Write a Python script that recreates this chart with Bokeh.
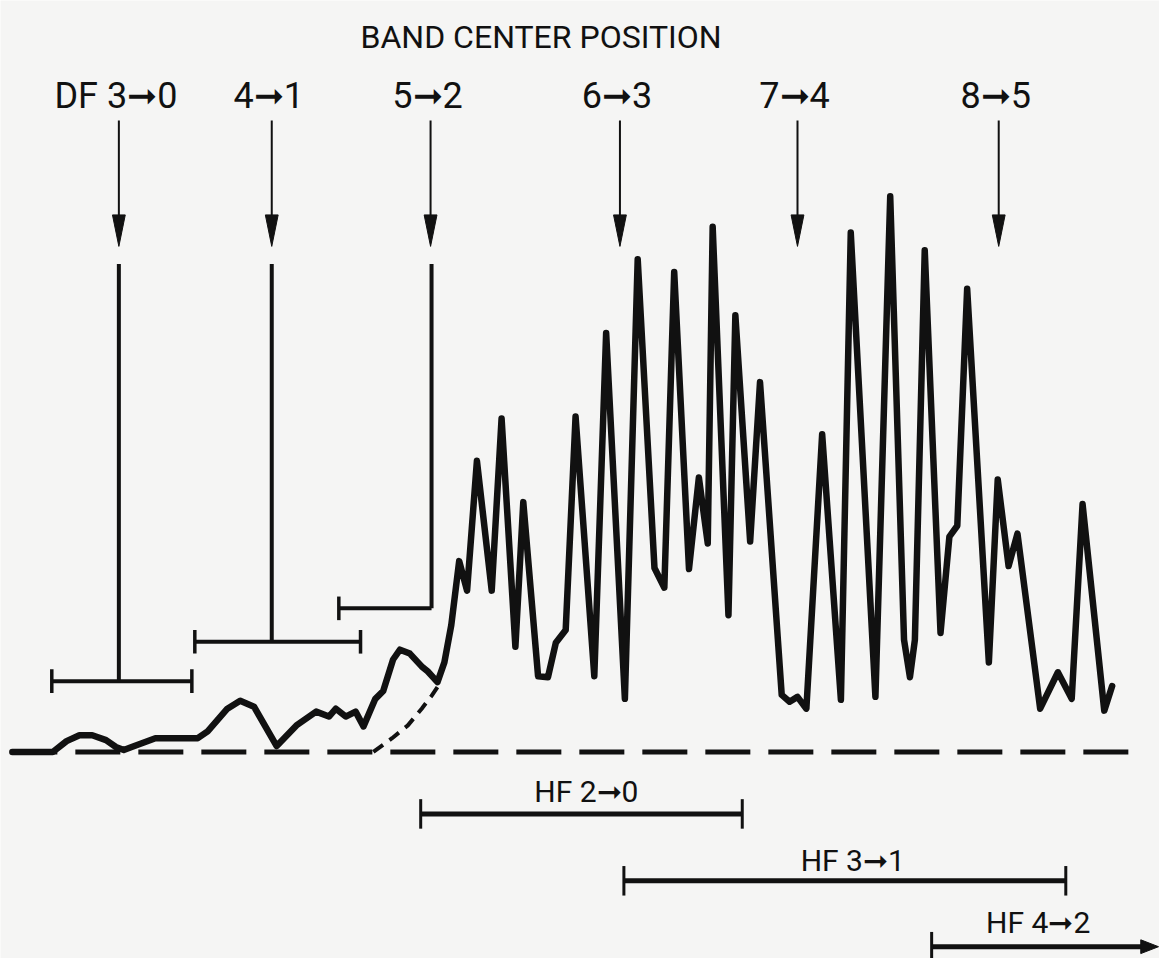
from bokeh.plotting import figure
from bokeh.models import Range1d
from bokeh.core.properties import value
from bokeh.embed import file_html
from bokeh.resources import INLINE

# ---------------- data ----------------
# spectrum: position (x) and intensity above baseline (y)
spec_x = [12, 53, 67, 80, 93, 107, 117, 125, 133, 157, 200, 210, 230, 243, 257, 280, 300, 320,
          333, 340, 350, 360, 368, 380, 388, 398, 405, 415, 427, 433, 443, 450, 457, 465, 473,
          483, 498, 508, 522, 530, 545, 555, 563, 573, 583, 602, 614, 633, 646, 663, 673, 683,
          698, 708, 717, 722, 738, 745, 760, 770, 792, 800, 808, 817, 833, 852, 862, 887, 902,
          916, 922, 927, 937, 953, 962, 970, 980, 1002, 1011, 1022, 1031, 1054, 1072, 1086,
          1097, 1119, 1127]
spec_y = [0, 0, 11, 17, 17, 12, 5, 2, 5, 14, 14, 21, 44, 52, 46, 6, 27, 41,
          36, 44, 36, 41, 26, 54, 62, 94, 104, 100, 87, 82, 71, 91, 129, 194, 164,
          296, 164, 339, 107, 254, 77, 76, 111, 124, 341, 77, 426, 54, 501, 187, 167, 488,
          186, 279, 212, 534, 139, 444, 214, 376, 58, 51, 56, 44, 323, 53, 528, 56, 565,
          114, 76, 114, 510, 121, 219, 230, 471, 91, 277, 189, 222, 44, 81, 54,
          252, 42, 67]

# extrapolated shoulder (dashed)
shoulder_x = [378, 397, 413, 427, 437, 447]
shoulder_y = [0, 14, 27, 44, 57, 72]

# band center positions
band_labels = ["DF 3\u279e0", "4\u279e1", "5\u279e2", "6\u279e3", "7\u279e4", "8\u279e5"]
band_centers = [120, 275, 436, 628, 808, 1012]

# DF band sticks and their spread
df_centers = [120, 275, 437]
df_lo = [52, 197, 343]
df_hi = [194, 365, 437]
df_level = [72, 112, 146]
df_top = 496

# HF band ranges
hf_labels = ["HF 2\u279e0", "HF 3\u279e1", "HF 4\u279e2"]
hf_lo = [426, 632, 944]
hf_hi = [752, 1080, 1158]
hf_level = [-63, -131, -198]
hf_label_x = [594, 864, 1052]

title_text = "BAND CENTER POSITION"

# ---------------- figure ----------------
BG = "#f5f5f4"
INK = "#111111"
FONT = "Roboto"

p = figure(width=1159, height=958, output_backend="svg", toolbar_location=None,
           x_range=Range1d(0, 1175), y_range=Range1d(-210, 764),
           x_axis_location=None, y_axis_location=None, min_border=0,
           background_fill_color=BG, border_fill_color=BG, outline_line_color=None,
           tools="")
p.grid.visible = False

# baseline
p.line([12, 1150], [0, 0], line_color=INK, line_width=5, line_dash="45 18")
# shoulder
p.line(shoulder_x, shoulder_y, line_color=INK, line_width=4, line_dash="12 8")
# spectrum
p.line(spec_x, spec_y, line_color=INK, line_width=6.5, line_join="round", line_cap="round")

# DF sticks
p.segment(x0=df_centers, y0=[df_top] * 3, x1=df_centers, y1=df_level, line_color=INK, line_width=4)
p.segment(x0=df_lo, y0=df_level, x1=df_hi, y1=df_level, line_color=INK, line_width=4)
cap_x = df_lo + df_hi[:2]
cap_y = df_level + df_level[:2]
p.segment(x0=cap_x, y0=[v - 12 for v in cap_y], x1=cap_x, y1=[v + 12 for v in cap_y],
          line_color=INK, line_width=3.5)

# band center arrows
shaft_top, shaft_bot, head_base, head_tip = 764 - 122, 764 - 222, 764 - 218, 764 - 250
p.segment(x0=band_centers, y0=[shaft_top] * 6, x1=band_centers, y1=[shaft_bot] * 6,
          line_color=INK, line_width=2)
p.patches([[c - 6.5, c + 6.5, c] for c in band_centers],
          [[head_base, head_base, head_tip] for _ in band_centers],
          fill_color=INK, line_color=INK, line_width=1)

# HF ranges
p.segment(x0=hf_lo, y0=hf_level, x1=hf_hi, y1=hf_level, line_color=INK, line_width=5)
hcap_x = hf_lo + hf_hi[:2]
hcap_y = hf_level + hf_level[:2]
p.segment(x0=hcap_x, y0=[v - 15 for v in hcap_y], x1=hcap_x, y1=[v + 15 for v in hcap_y],
          line_color=INK, line_width=3)
p.patches([[hf_hi[2] - 2, hf_hi[2] - 2, hf_hi[2] + 16]],
          [[hf_level[2] - 7, hf_level[2] + 7, hf_level[2]]],
          fill_color=INK, line_color=INK)

# texts (alphabetic baseline renders centred on cap height here)
p.text(x=[548], y=[727], text=[title_text], text_align="center", text_baseline="alphabetic",
       text_font=value(FONT), text_font_size="32px", text_color=INK)
p.text(x=[c - 3 for c in band_centers], y=[667] * 6, text=band_labels, text_align="center",
       text_baseline="alphabetic", text_font=value(FONT), text_font_size="36px", text_color=INK)
p.text(x=hf_label_x, y=[-40, -110, -173], text=hf_labels, text_align="center",
       text_baseline="alphabetic", text_font=value(FONT), text_font_size="30px", text_color=INK)

open("out.html", "w").write(file_html(p, INLINE))
